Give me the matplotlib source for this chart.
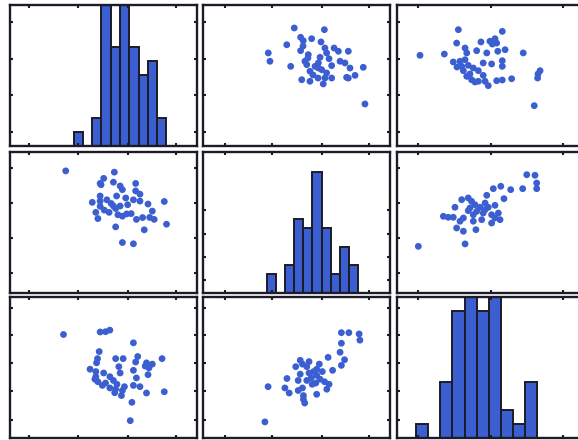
import numpy as np
import matplotlib
matplotlib.use("Agg")
import matplotlib.pyplot as plt

# scatter readings, all variables on a 0..10 scale
# panel row1/col2: x = var2, y = var1
p12_v2 = [4.88, 6.49, 5.22, 5.36, 5.81, 4.48, 6.31, 6.52, 7.01, 7.24,
          7.77, 3.49, 3.58, 5.22, 5.63, 6.61, 6.74, 4.69, 5.45, 5.55,
          6.17, 6.17, 5.72, 6.88, 7.59, 7.86, 8.57, 6.61, 6.88, 6.52,
          7.68, 8.13, 5.28, 5.72, 6.43, 8.66, 6.26, 5.99, 6.35, 7.33,
          7.77, 5.35, 5.88, 6.15, 5.61]
p12_v1 = [8.37, 8.25, 7.71, 7.47, 7.61, 7.18, 7.38, 6.95, 6.95, 6.72,
          6.72, 6.60, 6.01, 6.76, 6.48, 6.60, 6.19, 5.65, 6.01, 5.77,
          5.89, 5.53, 5.30, 5.70, 5.89, 5.53, 5.58, 5.18, 4.82, 4.82,
          4.87, 5.01, 4.70, 4.59, 4.40, 2.98, 6.29, 5.65, 5.41, 6.01,
          4.82, 7.09, 5.04, 4.82, 6.24]

# panel row1/col3: x = var3, y = var1
p13_v3 = [3.28, 5.63, 3.19, 4.49, 5.24, 5.10, 5.33, 1.23, 2.53, 3.64,
          3.73, 4.26, 4.80, 5.39, 5.78, 6.75, 3.01, 3.37, 3.81, 4.61,
          5.06, 5.63, 5.63, 3.55, 4.08, 4.35, 3.90, 4.61, 3.99, 4.35,
          4.88, 5.33, 5.63, 6.13, 7.65, 7.52, 7.34, 3.46, 4.71, 3.73,
          4.97, 3.64, 7.54, 4.17, 3.21]
p13_v1 = [8.25, 8.13, 7.30, 7.38, 7.61, 7.23, 7.30, 6.43, 6.52, 6.95,
          6.60, 6.76, 6.60, 6.72, 6.83, 6.60, 5.96, 6.01, 5.72, 5.89,
          5.82, 6.05, 5.65, 5.34, 5.53, 5.34, 5.11, 5.01, 4.70, 4.59,
          4.28, 4.63, 4.68, 4.77, 5.34, 4.82, 2.86, 5.65, 4.59, 4.94,
          7.43, 6.12, 5.11, 4.54, 5.60]

# panel row2/col3: x = var3, y = var2
p23_v3 = [7.38, 7.47, 7.47, 6.72, 6.08, 5.55, 5.15, 4.80, 5.72, 3.81,
          3.46, 4.71, 4.17, 3.10, 3.90, 4.44, 4.88, 5.24, 2.48, 3.01,
          3.55, 4.08, 4.61, 5.06, 3.81, 3.37, 4.08, 4.53, 5.06, 5.51,
          3.19, 3.55, 4.22, 1.14, 3.64, 5.42, 4.26, 2.74, 4.71, 3.99,
          6.94, 5.24]
p23_v2 = [8.35, 7.80, 7.40, 7.40, 7.33, 7.57, 7.40, 6.93, 6.69, 6.74,
          6.62, 6.38, 6.26, 6.08, 6.03, 6.08, 6.08, 6.22, 5.44, 5.37,
          5.32, 5.55, 5.67, 5.55, 5.84, 5.09, 5.09, 5.20, 4.96, 5.20,
          4.61, 4.38, 4.49, 3.31, 3.48, 5.67, 5.79, 5.37, 5.91, 6.50,
          8.39, 5.32]

# histogram counts (10 bins each)
h1_counts = [1, 0, 2, 10, 7, 10, 7, 5, 6, 2]
h2_counts = [2, 0, 3, 8, 7, 13, 7, 2, 5, 3]
h3_counts = [1, 0, 4, 9, 10, 9, 10, 2, 1, 4]
h1_start, h1_end = 3.40, 8.36
h2_start, h2_end = 3.41, 8.30
h3_start, h3_end = 1.02, 7.50
h_tops = [10, 15.2, 10]

BLUE = '#3b5fd0'
EDGE = '#1c1c28'

W, H = 578, 440
fig = plt.figure(figsize=(W / 100, H / 100), dpi=100)
fig.patch.set_facecolor('white')

col_left = [10, 203, 397]
row_top = [5, 152, 297]
pw, ph = 187, 141

col_ticks = [[1.0, 3.65, 6.3, 8.9], [1.2, 3.7, 6.35, 8.9], [1.1, 5.0, 8.9]]
row_ticks = [[1.0, 3.6, 6.2, 8.8], [1.4, 3.9, 6.4, 8.9], [1.3, 3.3, 5.3, 7.3, 9.2]]

axes = {}
for r in range(3):
    for c in range(3):
        ax = fig.add_axes([col_left[c] / W, 1 - (row_top[r] + ph) / H, pw / W, ph / H])
        ax.set_xlim(0, 10)
        ax.set_ylim(0, 10)
        for s in ax.spines.values():
            s.set_linewidth(1.7)
            s.set_color(EDGE)
        ax.set_xticks(col_ticks[c])
        ax.set_yticks(row_ticks[r])
        ax.tick_params(direction='in', length=2.5, width=1.5, color=EDGE,
                       top=True, right=True, labelbottom=False, labelleft=False)
        axes[(r, c)] = ax

scat = dict(s=24, color=BLUE, edgecolors='none')
axes[(0, 1)].scatter(p12_v2, p12_v1, **scat)
axes[(1, 0)].scatter(p12_v1, p12_v2, **scat)
axes[(0, 2)].scatter(p13_v3, p13_v1, **scat)
axes[(2, 0)].scatter(p13_v1, p13_v3, **scat)
axes[(1, 2)].scatter(p23_v3, p23_v2, **scat)
axes[(2, 1)].scatter(p23_v2, p23_v3, **scat)

hists = [(h1_counts, h1_start, h1_end), (h2_counts, h2_start, h2_end),
         (h3_counts, h3_start, h3_end)]
for i, (counts, a, b) in enumerate(hists):
    ax = axes[(i, i)]
    edges = np.linspace(a, b, len(counts) + 1)
    ax.bar(edges[:-1], counts, width=edges[1] - edges[0], align='edge',
           color=BLUE, edgecolor=EDGE, linewidth=1.4)
    ax.set_ylim(0, h_tops[i])

fig.savefig('out.png', dpi=100, facecolor='white')
